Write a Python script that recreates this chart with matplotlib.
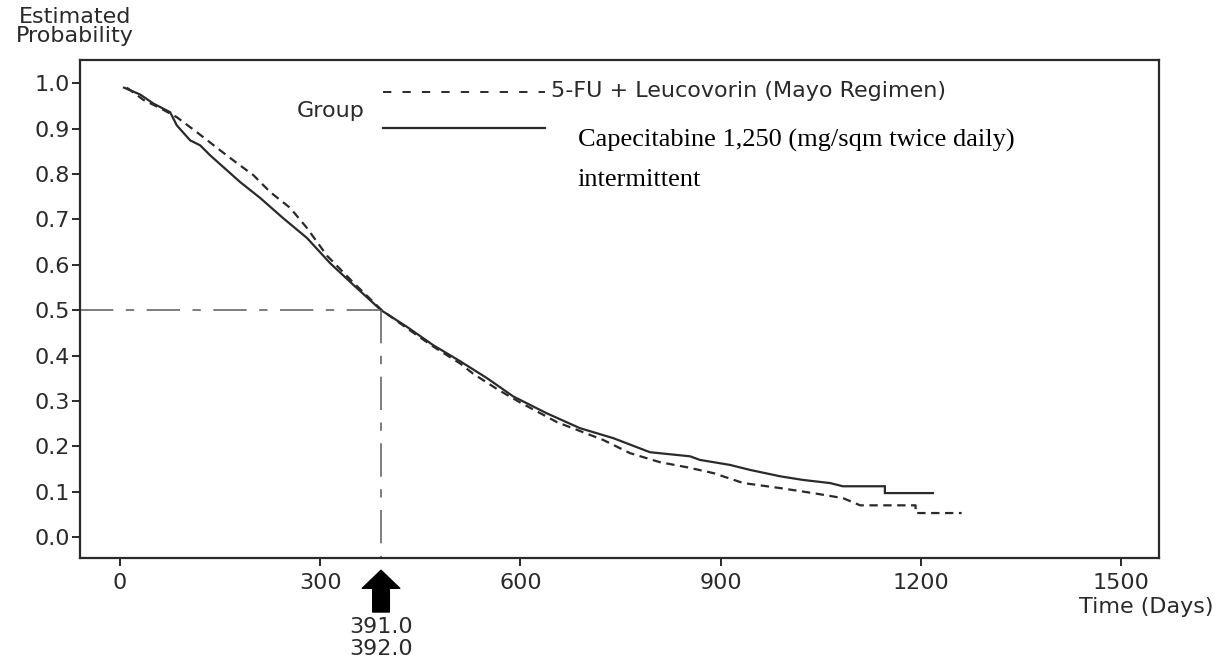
"""
    Kaplan-Meier style survival plot: Capecitabine vs 5-FU + Leucovorin.
    Saves the figure as out.png
"""
import numpy as np
import matplotlib
matplotlib.use('Agg')
import matplotlib.pyplot as plt

# Capecitabine 1,250 (solid line)
cap_days = [6, 30, 50, 75, 85, 105, 120, 135, 180, 210, 244, 280, 315, 350,
            391, 430, 469, 510, 550, 589, 639, 689, 739, 794, 854, 869, 914,
            944, 989, 1023, 1064, 1083, 1146, 1146, 1218]
cap_surv = [0.990, 0.975, 0.955, 0.936, 0.907, 0.874, 0.863, 0.841, 0.782,
            0.747, 0.703, 0.659, 0.603, 0.555, 0.500, 0.463, 0.423, 0.387,
            0.350, 0.310, 0.273, 0.240, 0.218, 0.187, 0.178, 0.170, 0.159,
            0.148, 0.134, 0.126, 0.119, 0.112, 0.112, 0.097, 0.097]

# 5-FU + Leucovorin (dashed line)
fu_days = [10, 15, 35, 60, 85, 115, 150, 175, 200, 225, 255, 280, 310, 350,
           392, 430, 469, 510, 529, 565, 599, 655, 724, 764, 809, 849, 889,
           934, 989, 1038, 1083, 1109, 1192, 1192, 1261]
fu_surv = [0.990, 0.985, 0.963, 0.945, 0.925, 0.892, 0.852, 0.824, 0.797,
           0.760, 0.725, 0.681, 0.620, 0.560, 0.500, 0.460, 0.420, 0.382,
           0.360, 0.326, 0.297, 0.253, 0.214, 0.185, 0.165, 0.154, 0.141,
           0.119, 0.108, 0.097, 0.086, 0.070, 0.070, 0.053, 0.053]

median_cap = 391.0
median_fu = 392.0

x_ticks = [0, 300, 600, 900, 1200, 1500]
y_ticks = np.arange(0, 11) / 10.0

label_fu = '5-FU + Leucovorin (Mayo Regimen)'
label_cap = 'Capecitabine 1,250 (mg/sqm twice daily)'

plt.rcParams['lines.scale_dashes'] = False
plt.rcParams['font.family'] = 'DejaVu Sans'

INK = '#2a2a2a'


def main():
    fig = plt.figure(figsize=(12.18, 6.57), dpi=100)
    ax = fig.add_axes([0.0657, 0.1507, 0.886, 0.758])

    ax.plot(cap_days, cap_surv, color=INK, lw=1.6, solid_joinstyle='miter')
    ax.plot(fu_days, fu_surv, color=INK, lw=1.6, dashes=(6, 4))

    ax.set_xlim(-60, 1557)
    ax.set_ylim(-0.046, 1.051)
    x_left = ax.get_xlim()[0]
    y_bottom = ax.get_ylim()[0]

    # median reference lines
    ref = dict(color='#666666', lw=1.2, dashes=(24, 9, 6, 9))
    ax.plot([x_left, median_cap], [0.5, 0.5], **ref)
    ax.plot([median_cap, median_cap], [0.5, y_bottom], **ref)

    # arrow + median values under the axis
    ax.annotate('', xy=(median_cap, -0.073), xytext=(median_cap, -0.165),
                annotation_clip=False,
                arrowprops=dict(arrowstyle='simple,head_length=0.65,head_width=1.35,tail_width=0.6',
                                fc='black', ec='black', mutation_scale=20,
                                shrinkA=0, shrinkB=0))
    ax.text(median_cap, -0.212, '{:.1f}'.format(median_cap), ha='center',
            va='baseline', fontsize=16, color=INK, clip_on=False)
    ax.text(median_cap, -0.260, '{:.1f}'.format(median_fu), ha='center',
            va='baseline', fontsize=16, color=INK, clip_on=False)

    # legend drawn by hand
    ax.text(265, 0.925, 'Group', fontsize=16, color=INK, va='baseline')
    ax.plot([394, 637], [0.980, 0.980], color=INK, lw=1.4, dashes=(6, 8))
    ax.plot([394, 637], [0.901, 0.901], color=INK, lw=1.6)
    ax.text(645, 0.969, label_fu, fontsize=16, color=INK, va='baseline')
    ax.text(686, 0.861, label_cap, fontsize=19, family='Liberation Serif',
            color='black', va='baseline')
    ax.text(686, 0.773, 'intermittent', fontsize=19, family='Liberation Serif',
            color='black', va='baseline')

    ax.set_xticks(x_ticks)
    ax.set_yticks(y_ticks)
    ax.set_yticklabels(['{:.1f}'.format(v) for v in y_ticks])
    ax.tick_params(axis='both', direction='out', length=6, width=1.4,
                   color=INK, labelsize=16, labelcolor=INK)
    ax.tick_params(axis='y', pad=1)
    ax.tick_params(axis='x', pad=5)
    for sp in ax.spines.values():
        sp.set_linewidth(1.6)
        sp.set_color(INK)

    fig.text(75 / 1218, 1 - 7 / 657, 'Estimated\nProbability', ha='center',
             va='top', fontsize=16, color=INK, linespacing=0.95,
             multialignment='center')
    fig.text(1146 / 1218, 1 - 607 / 657, 'Time (Days)', ha='center',
             va='center', fontsize=16, color=INK)

    fig.savefig('out.png', dpi=100)


if __name__ == "__main__":
    main()
